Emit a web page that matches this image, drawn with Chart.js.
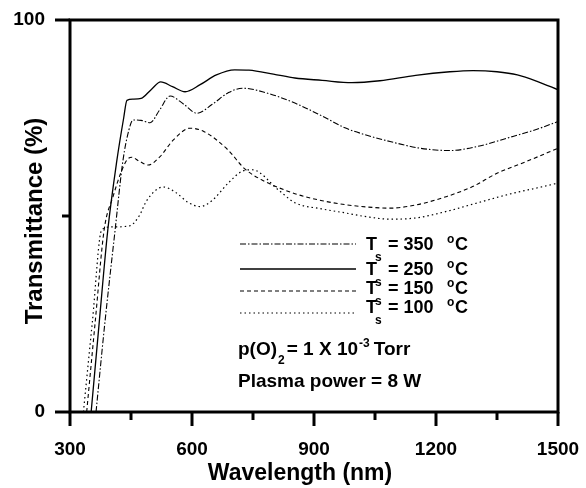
<!DOCTYPE html>
<html>
<head>
<meta charset="utf-8">
<script src="https://cdn.jsdelivr.net/npm/chart.js@4/dist/chart.umd.min.js"></script>
<style>
html,body{margin:0;padding:0;background:#fff;}
#wrap{width:586px;height:488px;position:relative;}
</style>
</head>
<body>
<div id="wrap"><canvas id="c" width="586" height="488"></canvas></div>
<script>
// ---- data ----
const seriesLabels = ['350', '250', '150', '100'];

const wl350 = [364, 385, 411, 430, 445, 455, 475, 497, 520, 546, 580, 612, 650, 690, 725, 780, 853, 920, 976, 1030, 1087, 1160, 1234, 1300, 1389, 1450, 1500];
const tr350 = [0, 22, 46.5, 64, 72, 74.5, 74.4, 73.8, 77, 80.6, 78.5, 76.2, 78.5, 81.5, 82.6, 81.5, 78.8, 75.5, 72.5, 70.6, 69, 67.3, 66.7, 67.7, 70.3, 72.2, 74.1];

const wl250 = [352, 372, 393, 415, 432, 440, 455, 475, 500, 523, 552, 583, 620, 660, 705, 740, 800, 853, 920, 993, 1062, 1150, 1234, 1291, 1350, 1400, 1450, 1500];
const tr250 = [0, 23, 46.5, 64, 75, 79.5, 79.8, 80, 82.3, 84.2, 83, 81.7, 83.5, 86, 87.3, 87.2, 86.2, 85.2, 84.6, 84.0, 84.5, 85.9, 86.8, 87.1, 86.8, 86.0, 84.3, 82.2];

const wl150 = [341, 362, 384, 406, 425, 440, 452, 470, 492, 520, 555, 595, 630, 688, 730, 772, 853, 920, 976, 1030, 1087, 1150, 1227, 1290, 1350, 1420, 1500];
const tr150 = [0, 23, 46.5, 55, 61, 64.3, 65, 64, 63, 65, 69.5, 72.4, 71.5, 66.9, 62, 59.2, 55.7, 53.9, 52.9, 52.3, 52, 52.8, 55, 57.5, 60.9, 63.8, 67.3];

const wl100 = [333, 355, 378, 400, 447, 470, 489, 529, 560, 590, 620, 650, 690, 725, 748, 812, 853, 920, 976, 1030, 1087, 1150, 1227, 1300, 1389, 1450, 1500];
const tr100 = [0, 23, 46.5, 47.2, 47.5, 50, 54, 57.4, 56, 53.5, 52.4, 54, 58.5, 61.5, 61.8, 56.7, 53.4, 51.8, 50.8, 49.8, 49.2, 49.5, 51.2, 53.3, 55.8, 57.2, 58.4];

const xTickValues = [300, 600, 900, 1200, 1500];
const yTickLabels = ['0', '', '100'];

const FONT = '"Liberation Sans", Arial, Helvetica, sans-serif';
const pts = (xs, ys) => xs.map((x, i) => ({x: x, y: ys[i]}));

const dashStyles = [[6, 2, 1.5, 2], [], [4, 3], [1.5, 3]];
const widths = [1.1, 1.3, 1.1, 1.2];

const datasets = [
  {label: seriesLabels[0], data: pts(wl350, tr350)},
  {label: seriesLabels[1], data: pts(wl250, tr250)},
  {label: seriesLabels[2], data: pts(wl150, tr150)},
  {label: seriesLabels[3], data: pts(wl100, tr100)}
].map((d, i) => Object.assign(d, {
  borderColor: '#000', borderWidth: widths[i], borderDash: dashStyles[i],
  pointRadius: 0, showLine: true, fill: false,
  tension: 0.4, cubicInterpolationMode: 'monotone'
}));

const decor = {
  id: 'decor',
  afterDraw(chart) {
    const ctx = chart.ctx;
    const a = chart.chartArea;
    const xs = chart.scales.x, ys = chart.scales.y;
    ctx.save();
    ctx.strokeStyle = '#000';
    ctx.lineWidth = 3;
    ctx.setLineDash([]);
    ctx.strokeRect(a.left, a.top, a.right - a.left, a.bottom - a.top);
    // x ticks (major every 300, minor at 150 offsets)
    for (let v = 300; v <= 1500; v += 150) {
      const px = xs.getPixelForValue(v);
      const len = (v % 300 === 0) ? 14 : 8;
      ctx.beginPath(); ctx.moveTo(px, a.bottom); ctx.lineTo(px, a.bottom + len); ctx.stroke();
    }
    // y ticks
    [0, 50, 100].forEach(v => {
      const py = ys.getPixelForValue(v);
      const len = (v === 50) ? 8 : 15;
      ctx.beginPath(); ctx.moveTo(a.left - len, py); ctx.lineTo(a.left, py); ctx.stroke();
    });
    // axis titles
    ctx.fillStyle = '#000';
    ctx.font = 'bold 23px ' + FONT;
    ctx.textAlign = 'center'; ctx.textBaseline = 'alphabetic';
    ctx.fillText('Wavelength (nm)', 300, 480);
    ctx.save();
    ctx.translate(42, 221);
    ctx.rotate(-Math.PI / 2);
    ctx.font = 'bold 24px ' + FONT;
    ctx.fillText('Transmittance (%)', 0, 0);
    ctx.restore();

    // legend
    const lineY = [244, 269, 291, 313];
    const baseY = [250, 275, 294, 313];
    ctx.textAlign = 'left';
    chart.data.datasets.forEach((ds, i) => {
      ctx.save();
      ctx.lineWidth = ds.borderWidth;
      ctx.setLineDash(ds.borderDash || []);
      ctx.beginPath(); ctx.moveTo(240, lineY[i]); ctx.lineTo(356, lineY[i]); ctx.stroke();
      ctx.restore();
      const b = baseY[i];
      ctx.font = 'bold 18px ' + FONT;
      ctx.fillText('T', 366, b);
      ctx.font = 'bold 12px ' + FONT;
      ctx.fillText('s', 375, b + 11);
      ctx.font = 'bold 18px ' + FONT;
      ctx.fillText('= ' + ds.label, 388, b);
      ctx.font = 'bold 12px ' + FONT;
      ctx.fillText('o', 447, b - 7);
      ctx.font = 'bold 18px ' + FONT;
      ctx.fillText('C', 455, b);
    });
    // conditions text
    let x = 238;
    const b1 = 355;
    ctx.font = 'bold 19px ' + FONT;
    ctx.fillText('p(O)', x, b1); x += ctx.measureText('p(O)').width;
    ctx.font = 'bold 12px ' + FONT;
    ctx.fillText('2', x + 1, b1 + 9); x += ctx.measureText('2').width + 3;
    ctx.font = 'bold 19px ' + FONT;
    ctx.fillText('= 1 X 10', x, b1); x += ctx.measureText('= 1 X 10').width;
    ctx.font = 'bold 12px ' + FONT;
    ctx.fillText('-3', x + 1, b1 - 8); x += ctx.measureText('-3').width + 5;
    ctx.font = 'bold 19px ' + FONT;
    ctx.fillText('Torr', x, b1);
    ctx.fillText('Plasma power = 8 W', 238, 387);
    ctx.restore();
  }
};

new Chart(document.getElementById('c'), {
  type: 'scatter',
  data: {datasets: datasets},
  options: {
    responsive: false,
    animation: false,
    devicePixelRatio: 1,
    layout: {padding: {left: 0, top: 20, right: 28, bottom: 0}, autoPadding: false},
    plugins: {legend: {display: false}, tooltip: {enabled: false}, title: {display: false}},
    scales: {
      x: {
        type: 'linear', min: 300, max: 1500,
        afterFit(s) { s.height = 76; s.paddingLeft = 0; s.paddingRight = 0; },
        afterBuildTicks(s) { s.ticks = xTickValues.map(v => ({value: v})); },
        ticks: {color: '#000', font: {family: FONT, size: 19, weight: 'bold'}, padding: 26, maxRotation: 0,
                callback: v => String(v)},
        grid: {display: false, drawTicks: false},
        border: {display: false}
      },
      y: {
        min: 0, max: 100,
        afterFit(s) { s.width = 70; s.paddingTop = 0; s.paddingBottom = 0; },
        afterBuildTicks(s) { s.ticks = [0, 50, 100].map(v => ({value: v})); },
        ticks: {color: '#000', font: {family: FONT, size: 19, weight: 'bold'}, padding: 25,
                callback: (v, i) => yTickLabels[i]},
        grid: {display: false, drawTicks: false},
        border: {display: false}
      }
    }
  },
  plugins: [decor]
});
</script>
</body>
</html>
